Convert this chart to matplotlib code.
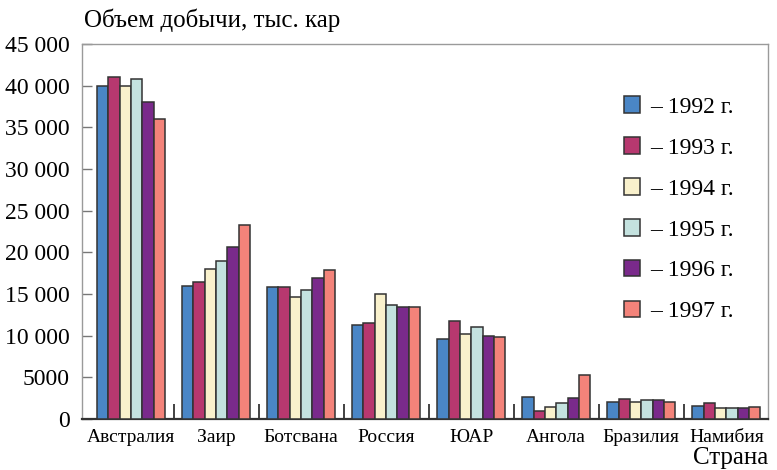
import matplotlib
matplotlib.use("Agg")
import matplotlib.pyplot as plt
import numpy as np
from matplotlib.patches import Patch

countries = ["Австралия", "Заир", "Ботсвана", "Россия", "ЮАР", "Ангола", "Бразилия", "Намибия"]
years = ["1992", "1993", "1994", "1995", "1996", "1997"]
v1992 = [40000, 16000, 15900, 11300, 9600, 2700, 2000, 1600]
v1993 = [41000, 16500, 15900, 11500, 11800, 1000, 2400, 1900]
v1994 = [40000, 18000, 14700, 15000, 10200, 1400, 2000, 1300]
v1995 = [40800, 19000, 15500, 13700, 11000, 1900, 2300, 1300]
v1996 = [38000, 20600, 16900, 13500, 10000, 2500, 2300, 1300]
v1997 = [36000, 23300, 17900, 13400, 9900, 5300, 2100, 1400]
series = [v1992, v1993, v1994, v1995, v1996, v1997]
yticks = [0, 5000, 10000, 15000, 20000, 25000, 30000, 35000, 40000, 45000]
ytick_labels = ["0", "5000", "10 000", "15 000", "20 000", "25 000", "30 000", "35 000", "40 000", "45 000"]
colors = ["#4a86c6", "#b7386f", "#f9f1cc", "#c4e2df", "#7a2a8b", "#f3837a"]

plt.rcParams["font.family"] = ["Liberation Serif", "DejaVu Serif"]

fig = plt.figure(figsize=(7.77, 4.70), dpi=100)
ax = fig.add_axes([82/777, 1-419/470, (768-82)/777, (419-44)/470])

x = np.arange(len(countries))
w = 0.8/6
for i, (vals, c) in enumerate(zip(series, colors)):
    ax.bar(x - 0.4 + w*(i+0.5), vals, width=w, color=c, edgecolor="#333333", linewidth=1.1, zorder=3)

ax.set_xlim(-0.576, 7.49)
ax.set_ylim(0, 45000)
ax.set_yticks(yticks)
ax.set_yticklabels(ytick_labels)
ax.set_xticks(x)
ax.set_xticklabels(countries)
ax.tick_params(axis="x", which="major", length=0, pad=7, labelsize=14)
ax.set_xticks(x[:-1] + 0.5, minor=True)
ax.tick_params(axis="x", which="minor", direction="in", length=11, width=1.2, color="#222222")
ax.tick_params(axis="y", direction="in", length=7, width=1, color="#777777", pad=9, labelsize=17)

for s in ["top", "left", "right"]:
    ax.spines[s].set_color("#9a9a9a")
    ax.spines[s].set_linewidth(1.0)
ax.spines["bottom"].set_color("#333333")
ax.spines["bottom"].set_linewidth(1.6)

handles = [Patch(facecolor=c, edgecolor="#333333", linewidth=1.1) for c in colors]
labels = ["– %s г." % y for y in years]
ax.legend(handles, labels, loc="upper left", bbox_to_anchor=(521/686, 0.917), frameon=False,
          fontsize=17, handlelength=0.65, handleheight=0.7, handletextpad=0.45, labelspacing=0.82)

fig.text(84/777, 1-20/470, "Объем добычи, тыс. кар", fontsize=18, va="center", ha="left")
fig.text(768/777, 1-458/470, "Страна", fontsize=18, va="center", ha="right")

fig.savefig("out.png", dpi=100)
